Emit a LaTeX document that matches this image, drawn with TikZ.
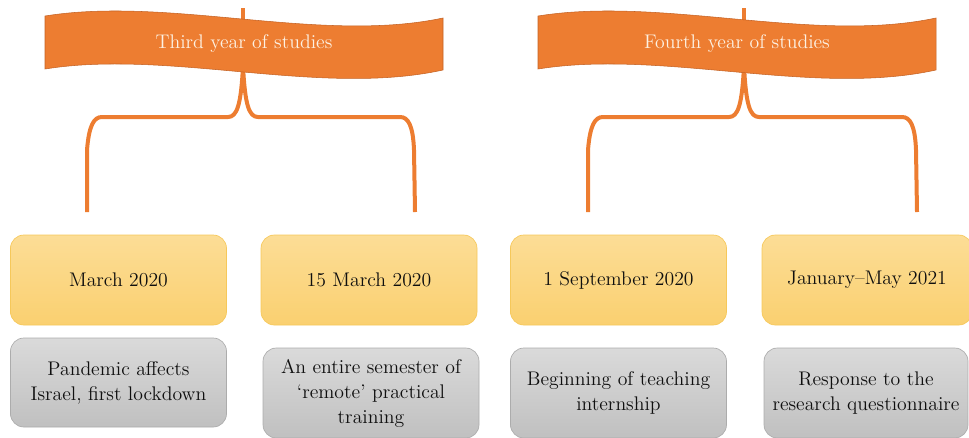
\documentclass[tikz,border=0pt]{standalone}
\definecolor{tlorange}{RGB}{237,125,49}
\definecolor{tlorangedk}{RGB}{196,98,36}
\definecolor{tlcream}{RGB}{253,241,226}
\definecolor{tlyellowtop}{RGB}{252,221,150}
\definecolor{tlyellowbot}{RGB}{250,208,112}
\definecolor{tlyellowline}{RGB}{246,200,90}
\definecolor{tlgraytop}{RGB}{218,218,218}
\definecolor{tlgraybot}{RGB}{192,192,192}
\definecolor{tlgrayline}{RGB}{172,172,172}
\definecolor{tltext}{RGB}{15,15,15}
\usetikzlibrary{positioning}

\begin{document}
\begin{tikzpicture}[x=0.75pt, y=-0.75pt,
  every node/.style={font=\fontsize{14.8}{18.75}\selectfont, align=center, inner sep=0pt},
  datebox/.style={draw=tlyellowline, line width=0.5pt, rounded corners=10pt, top color=tlyellowtop, bottom color=tlyellowbot, minimum width=162pt, minimum height=67.5pt, text=tltext},
  eventbox/.style={draw=tlgrayline, line width=0.5pt, rounded corners=10pt, top color=tlgraytop, bottom color=tlgraybot, minimum width=162pt, minimum height=67.5pt, text=tltext},
  banner/.style={fill=tlorange, draw=tlorangedk, line width=0.4pt},
  brace/.style={draw=tlorange, line width=3pt}]
\useasboundingbox (0,0) rectangle (969,437);
\clip (0,0) rectangle (969,437);
% Year stems
\coordinate (top3) at (243,8);
\coordinate (top4) at (744,8);
\draw[brace, line width=2.6pt] (top3) -- (243,30);
\draw[brace, line width=2.6pt] (top4) -- (744,30);
% Braces under the banners
\coordinate (tip3) at (243,66);
\coordinate (end3a) at (87,212);
\coordinate (end3b) at (415,212);
\draw[brace] (end3a) -- (87,150) .. controls (89,125) and (94,117) .. (102,117) -- (228,117)
  .. controls (237,117) and (241,105) .. (tip3) .. controls (245,105) and (249,117) .. (258,117)
  -- (400,117) .. controls (408,117) and (413,125) .. (414,150) -- (end3b);
\coordinate (tip4) at (744,66);
\coordinate (end4a) at (588,212);
\coordinate (end4b) at (917,212);
\draw[brace] (end4a) -- (588,150) .. controls (590,125) and (595,117) .. (603,117) -- (729,117)
  .. controls (738,117) and (742,105) .. (tip4) .. controls (746,105) and (750,117) .. (759,117)
  -- (902,117) .. controls (910,117) and (915,125) .. (916,150) -- (end4b);
% Banners
\draw[banner] (45,16) .. controls (170,-4) and (320,44) .. (443,18) -- (443,70)
  .. controls (320,97) and (170,49) .. (45,69) -- cycle;
\draw[banner] (538,16) .. controls (663,-4) and (813,44) .. (936,18) -- (936,70)
  .. controls (813,97) and (663,49) .. (538,69) -- cycle;
\node[text=tlcream] (third) at (244,44) {Third year of studies};
\node[text=tlcream] (fourth) at (737,44) {Fourth year of studies};
% Dates
\node[datebox] (mar) at (118.5,280) {March 2020};
\node[datebox] (midmar) at (369,280) {15 March 2020};
\node[datebox] (sep) at (618.5,280) {1 September 2020};
\node[datebox, minimum width=157.5pt] (janmay) at (867,280) {January--May 2021};
% Events
\node[eventbox, minimum height=66.75pt] (lockdown) at (118.5,382.5) {Pandemic affects\\Israel, first lockdown};
\node[eventbox] (remote) at (371,393) {An entire semester of\\`remote' practical\\training};
\node[eventbox] (intern) at (618.5,393) {Beginning of teaching\\internship};
\node[eventbox, minimum width=153pt] (survey) at (866,393) {Response to the\\research questionnaire};
\end{tikzpicture}
\end{document}
